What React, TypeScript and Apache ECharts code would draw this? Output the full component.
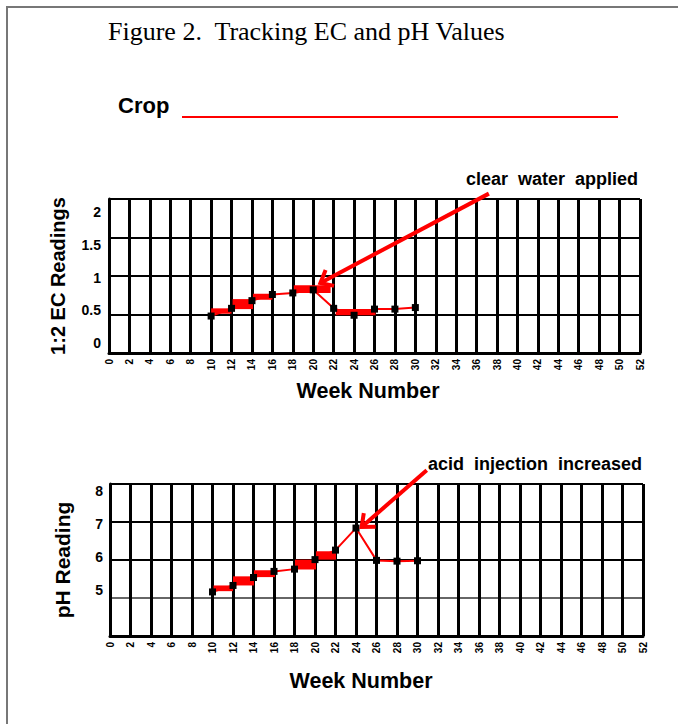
import React, { useEffect, useRef } from "react";
import * as echarts from "echarts";

// ---- data ----
const weeks = [10, 12, 14, 16, 18, 20, 22, 24, 26, 28, 30];
const ecValues = [0.48, 0.58, 0.68, 0.76, 0.78, 0.82, 0.58, 0.49, 0.57, 0.57, 0.59];
const phValues = [5.16, 5.33, 5.54, 5.7, 5.76, 6.01, 6.26, 6.84, 5.99, 5.97, 5.98];

// highlighted bands: [fromWeek, toWeek, low, high]
const ecBands = [
  [10, 12, 0.51, 0.58],
  [12.1, 14.1, 0.57, 0.7],
  [14.1, 16, 0.69, 0.77],
  [18.1, 21.7, 0.78, 0.88],
  [22.2, 26.1, 0.49, 0.57],
];
const phBands = [
  [10.1, 12, 5.18, 5.33],
  [12, 14.05, 5.33, 5.57],
  [14.05, 16.1, 5.55, 5.73],
  [18.05, 20.1, 5.75, 6.01],
  [20.1, 22.05, 6.01, 6.23],
];

// annotation arrows: [fromWeek, fromValue, toWeek, toValue]
const ecArrow = [[37.2, 2.07, 20.7, 0.91]];
const phArrow = [[30.9, 8.36, 24.55, 6.87]];

const ecTickLabels = [0, 0.5, 1, 1.5, 2];
const phTickLabels = [5, 6, 7, 8];

const figureTitle = "Figure 2.  Tracking EC and pH Values";
const cropLabel = "Crop";
const ecNote = "clear  water  applied";
const phNote = "acid  injection  increased";
const xName = "Week Number";
const ecName = "1:2 EC Readings";
const phName = "pH Reading";

const SANS = "Liberation Sans, Arial, sans-serif";
const SERIF = "Liberation Serif, Times New Roman, serif";
const RED = "#ff0000";

const bandRender = (_p: any, api: any) => {
  const a = api.coord([api.value(0), api.value(3)]);
  const b = api.coord([api.value(1), api.value(2)]);
  return {
    type: "rect",
    shape: { x: a[0], y: a[1], width: b[0] - a[0], height: b[1] - a[1] },
    style: { fill: RED },
  };
};

const arrowRender = (_p: any, api: any) => {
  const s = api.coord([api.value(0), api.value(1)]);
  const t = api.coord([api.value(2), api.value(3)]);
  const ang = Math.atan2(s[1] - t[1], s[0] - t[0]);
  const L = 14;
  const spread = 0.7;
  const h1 = [t[0] + L * Math.cos(ang - spread), t[1] + L * Math.sin(ang - spread)];
  const h2 = [t[0] + L * Math.cos(ang + spread), t[1] + L * Math.sin(ang + spread)];
  return {
    type: "group",
    children: [
      { type: "line", shape: { x1: s[0], y1: s[1], x2: t[0], y2: t[1] }, style: { stroke: RED, lineWidth: 4 } },
      { type: "polyline", shape: { points: [h1, t, h2] }, style: { stroke: RED, lineWidth: 4, fill: null } },
    ],
  };
};

const makeX = (gridIndex: number, nameGap: number, padRight: number) => ({
  type: "value",
  gridIndex,
  min: 0,
  max: 52,
  interval: 2,
  name: xName,
  nameLocation: "middle",
  nameGap,
  nameTextStyle: { fontFamily: SANS, fontWeight: "bold", fontSize: 21.5, color: "#000", padding: [0, padRight, 0, 0] },
  axisLine: { show: true, onZero: false, lineStyle: { color: "#000", width: 3 } },
  axisTick: { show: false },
  axisLabel: { rotate: 90, fontSize: 10, fontWeight: "bold", color: "#000", fontFamily: SANS, margin: 6, showMaxLabel: true },
  splitLine: { show: true, lineStyle: { color: "#000", width: 3 } },
});

export default function App() {
  const ref = useRef<HTMLDivElement>(null);
  useEffect(() => {
    document.body.style.margin = "0";
    const chart = echarts.init(ref.current!, null, { renderer: "svg" });
    const fmt = (v: number) => String(+Number(v).toFixed(2));
    const option: any = {
      animation: false,
      backgroundColor: "#fff",
      title: {
        text: figureTitle,
        left: 108,
        top: 18,
        padding: 0,
        textStyle: { fontFamily: SERIF, fontSize: 26, fontWeight: "normal", color: "#000" },
      },
      grid: [
        { left: 109, top: 199, width: 531, height: 154 },
        { left: 110, top: 484, width: 533, height: 152 },
      ],
      xAxis: [makeX(0, 27, 13), makeX(1, 34, 31)],
      yAxis: [
        {
          type: "value",
          gridIndex: 0,
          min: 0,
          max: 2,
          interval: 0.5,
          name: ecName,
          nameLocation: "middle",
          nameRotate: 90,
          nameGap: 41,
          nameTextStyle: { fontFamily: SANS, fontWeight: "bold", fontSize: 20, color: "#000" },
          axisLine: { show: true, lineStyle: { color: "#000", width: 3 } },
          axisTick: { show: false },
          axisLabel: { show: false },
          splitLine: { show: true, lineStyle: { color: "#000", width: 2 } },
        },
        {
          type: "value",
          gridIndex: 0,
          position: "left",
          min: -0.147,
          max: 2.193,
          axisLine: { show: false },
          axisTick: { show: false },
          splitLine: { show: false },
          axisLabel: {
            customValues: ecTickLabels,
            formatter: fmt,
            fontFamily: SANS,
            fontWeight: "bold",
            fontSize: 14,
            color: "#000",
            margin: 8,
          },
        },
        {
          type: "value",
          gridIndex: 1,
          min: 4,
          max: 8,
          interval: 1,
          name: phName,
          nameLocation: "middle",
          nameRotate: 90,
          nameGap: 37,
          nameTextStyle: { fontFamily: SANS, fontWeight: "bold", fontSize: 21, color: "#000" },
          axisLine: { show: true, lineStyle: { color: "#000", width: 3 } },
          axisTick: { show: false },
          axisLabel: { show: false },
          splitLine: { show: true, lineStyle: { color: ["#000", "#666", "#000", "#000", "#000"], width: 2 } },
        },
        {
          type: "value",
          gridIndex: 1,
          position: "left",
          min: 3.61,
          max: 8.2,
          axisLine: { show: false },
          axisTick: { show: false },
          splitLine: { show: false },
          axisLabel: {
            customValues: phTickLabels,
            formatter: fmt,
            fontFamily: SANS,
            fontWeight: "bold",
            fontSize: 14,
            color: "#000",
            margin: 7,
          },
        },
      ],
      series: [
        {
          type: "custom",
          xAxisIndex: 0,
          yAxisIndex: 0,
          renderItem: bandRender,
          encode: { x: [0, 1], y: [2, 3] },
          data: ecBands,
          z: 1,
          silent: true,
        },
        {
          type: "line",
          xAxisIndex: 0,
          yAxisIndex: 0,
          data: weeks.map((w, i) => [w, ecValues[i]]),
          symbol: "rect",
          symbolSize: 7,
          itemStyle: { color: "#000" },
          lineStyle: { color: RED, width: 2 },
          z: 2,
        },
        {
          type: "custom",
          xAxisIndex: 0,
          yAxisIndex: 0,
          renderItem: arrowRender,
          encode: { x: [0, 2], y: [1, 3] },
          data: ecArrow,
          z: 3,
          clip: false,
          silent: true,
        },
        {
          type: "custom",
          xAxisIndex: 1,
          yAxisIndex: 2,
          renderItem: bandRender,
          encode: { x: [0, 1], y: [2, 3] },
          data: phBands,
          z: 1,
          silent: true,
        },
        {
          type: "line",
          xAxisIndex: 1,
          yAxisIndex: 2,
          data: weeks.map((w, i) => [w, phValues[i]]),
          symbol: "rect",
          symbolSize: 7,
          itemStyle: { color: "#000" },
          lineStyle: { color: RED, width: 2 },
          z: 2,
        },
        {
          type: "custom",
          xAxisIndex: 1,
          yAxisIndex: 2,
          renderItem: arrowRender,
          encode: { x: [0, 2], y: [1, 3] },
          data: phArrow,
          z: 3,
          clip: false,
          silent: true,
        },
      ],
      graphic: [
        { type: "line", shape: { x1: 6, y1: 7, x2: 678, y2: 7 }, style: { stroke: "#777", lineWidth: 2 } },
        { type: "line", shape: { x1: 7, y1: 6, x2: 7, y2: 724 }, style: { stroke: "#777", lineWidth: 2 } },
        {
          type: "text",
          left: 118,
          top: 94,
          style: { text: cropLabel, fontFamily: SANS, fontWeight: "bold", fontSize: 22, fill: "#000" },
        },
        { type: "line", shape: { x1: 182, y1: 117, x2: 618, y2: 117 }, style: { stroke: RED, lineWidth: 2 } },
        {
          type: "text",
          left: 466,
          top: 170,
          style: { text: ecNote, fontFamily: SANS, fontWeight: "bold", fontSize: 18, fill: "#000" },
        },
        {
          type: "text",
          left: 428,
          top: 455,
          style: { text: phNote, fontFamily: SANS, fontWeight: "bold", fontSize: 18, fill: "#000" },
        },
      ],
    };
    chart.setOption(option);
    return () => chart.dispose();
  }, []);
  return <div ref={ref} style={{ width: 678, height: 724 }} />;
}
